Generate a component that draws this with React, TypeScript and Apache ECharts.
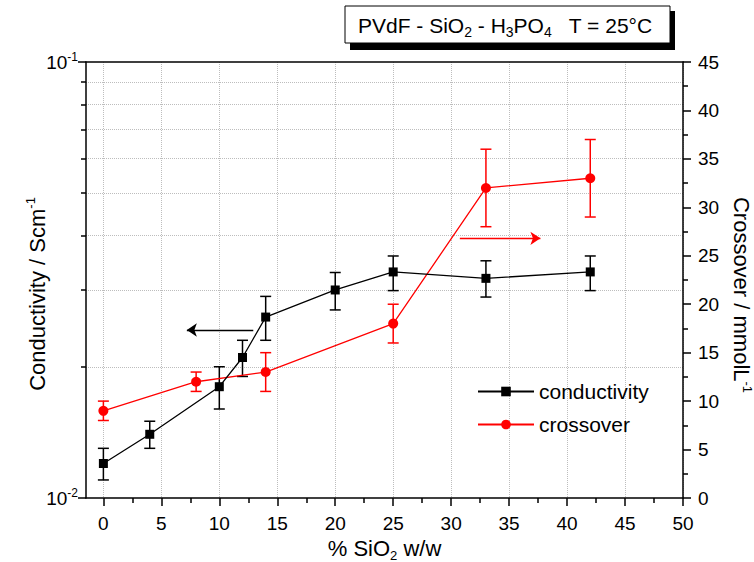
import React, { useEffect, useRef } from "react";
import * as echarts from "echarts";

// ---- data ----
const conductivityContent = [0, 4, 10, 12, 14, 20, 25, 33, 42];
const conductivity = [0.0120, 0.0140, 0.0180, 0.0210, 0.0260, 0.0300, 0.0330, 0.0319, 0.0330];
const conductivityLow = [0.0110, 0.0130, 0.0160, 0.0190, 0.0230, 0.0270, 0.0299, 0.0289, 0.0299];
const conductivityHigh = [0.0130, 0.0150, 0.0200, 0.0230, 0.0290, 0.0329, 0.0359, 0.0350, 0.0359];

const crossoverContent = [0, 8, 14, 25, 33, 42];
const crossover = [9, 12, 13, 18, 32, 33];
const crossoverLow = [8, 11, 11, 16, 28, 29];
const crossoverHigh = [10, 13, 15, 20, 36, 37];

const xMajorTicks = [0, 5, 10, 15, 20, 25, 30, 35, 40, 45, 50];
const xMinorTicks = [2.5, 7.5, 12.5, 17.5, 22.5, 27.5, 32.5, 37.5, 42.5, 47.5];
const logMinorTicks = [0.02, 0.03, 0.04, 0.05, 0.06, 0.07, 0.08, 0.09];

const FONT = "'Liberation Sans', Arial, sans-serif";

function errorBars(name: string, yAxisIndex: number, xs: number[], lo: number[], hi: number[], color: string) {
  return {
    type: "custom",
    name,
    xAxisIndex: 0,
    yAxisIndex,
    silent: true,
    z: 3,
    encode: { x: 0, y: [1, 2] },
    data: xs.map((x, i) => [x, lo[i], hi[i]]),
    renderItem: (params: any, api: any) => {
      const x = api.value(0);
      const pLo = api.coord([x, api.value(1)]);
      const pHi = api.coord([x, api.value(2)]);
      const hw = 5.5;
      const style = { stroke: color, lineWidth: 1.5 };
      return {
        type: "group",
        children: [
          { type: "line", shape: { x1: pLo[0], y1: pLo[1], x2: pHi[0], y2: pHi[1] }, style },
          { type: "line", shape: { x1: pLo[0] - hw, y1: pLo[1], x2: pLo[0] + hw, y2: pLo[1] }, style },
          { type: "line", shape: { x1: pHi[0] - hw, y1: pHi[1], x2: pHi[0] + hw, y2: pHi[1] }, style },
        ],
      };
    },
  };
}

export default function App() {
  const ref = useRef<HTMLDivElement>(null);
  useEffect(() => {
    if (!ref.current) return;
    const chart = echarts.init(ref.current, null, { renderer: "svg" });
    const gridLine = { show: true, lineStyle: { color: "#bdbdbd", type: "dotted", width: 1 } };
    const axisLine = { show: true, onZero: false, lineStyle: { color: "#000", width: 1.5 } };
    const tickStyle = { color: "#000", width: 1.5 };
    const supRich = {
      b: { fontSize: 22, fontFamily: FONT, color: "#000", lineHeight: 26 },
      sup: { fontSize: 13, fontFamily: FONT, color: "#000", lineHeight: 13, verticalAlign: "top" },
      sub: { fontSize: 13, fontFamily: FONT, color: "#000", lineHeight: 13, verticalAlign: "bottom" },
    };
    chart.setOption({
      animation: false,
      grid: { left: 86, right: 71, top: 62, bottom: 64, containLabel: false, outerBoundsMode: "none" },
      legend: {
        data: ["conductivity", "crossover"],
        orient: "vertical",
        left: 472,
        top: 376,
        itemWidth: 56,
        itemHeight: 12,
        itemGap: 12,
        textStyle: { fontSize: 21, fontFamily: FONT, color: "#000" },
      },
      xAxis: [
        {
          type: "value",
          min: -1.5,
          max: 50,
          position: "bottom",
          axisLine,
          axisTick: { show: true, customValues: xMajorTicks, length: 8, lineStyle: tickStyle },
          axisLabel: { customValues: xMajorTicks, margin: 16, fontSize: 19, fontFamily: FONT, color: "#000" },
          splitLine: gridLine,
          name: "{b|% SiO}{sub|2}{b| w/w}",
          nameLocation: "middle",
          nameGap: 37,
          nameTextStyle: { rich: supRich },
        },
        {
          type: "value",
          min: -1.5,
          max: 50,
          position: "bottom",
          axisLine: { show: false, onZero: false },
          axisTick: { show: true, customValues: xMinorTicks, length: 5, lineStyle: tickStyle },
          axisLabel: { show: false },
          splitLine: { show: false },
        },
        {
          type: "value",
          min: -1.5,
          max: 50,
          position: "top",
          axisLine,
          axisTick: { show: false },
          axisLabel: { show: false },
          splitLine: { show: false },
        },
      ],
      yAxis: [
        {
          type: "log",
          logBase: 10,
          min: 0.01,
          max: 0.1,
          position: "left",
          axisLine,
          axisTick: { show: true, length: 8, lineStyle: tickStyle },
          axisLabel: {
            margin: 8,
            formatter: (v: number) => (v > 0.05 ? "{n|10}{e|-1}" : "{n|10}{e|-2}"),
            rich: {
              n: { fontSize: 19, fontFamily: FONT, color: "#000", lineHeight: 22 },
              e: { fontSize: 12, fontFamily: FONT, color: "#000", lineHeight: 12, verticalAlign: "top" },
            },
          },
          splitLine: { show: false },
          name: "{b|Conductivity / Scm}{sup|-1}",
          nameLocation: "middle",
          nameGap: 36,
          nameMoveOverlap: false,
          nameTextStyle: { rich: supRich, padding: [0, 28, 0, 0] },
        },
        {
          type: "value",
          min: 0,
          max: 45,
          interval: 5,
          position: "right",
          axisLine,
          axisTick: { show: true, length: 8, lineStyle: tickStyle },
          minorTick: { show: true, splitNumber: 2, length: 5, lineStyle: tickStyle },
          axisLabel: { margin: 15, fontSize: 19, fontFamily: FONT, color: "#000" },
          splitLine: { show: false },
          name: "{b|Crossover / mmolL}{sup|-1}",
          nameLocation: "middle",
          nameRotate: -90,
          nameGap: 43,
          nameTextStyle: { rich: supRich, padding: [0, 0, 0, 30] },
        },
        {
          type: "log",
          logBase: 10,
          min: 0.01,
          max: 0.1,
          position: "left",
          axisLine: { show: false, onZero: false },
          axisTick: { show: true, customValues: logMinorTicks, length: 5, lineStyle: tickStyle },
          axisLabel: { show: false },
          splitLine: gridLine,
        },
      ],
      graphic: [
        { type: "rect", shape: { x: 350, y: 11, width: 325, height: 39 }, style: { fill: "#000" }, z: 10 },
        { type: "rect", shape: { x: 345, y: 6, width: 325, height: 37 }, style: { fill: "#fff", stroke: "#000", lineWidth: 1 }, z: 11 },
        {
          type: "text",
          x: 358,
          y: 25,
          z: 12,
          style: {
            text: "{m|PVdF - SiO}{s|2}{m| - H}{s|3}{m|PO}{s|4}{m|   T = 25°C}",
            verticalAlign: "middle",
            rich: {
              m: { fontSize: 21, fontFamily: FONT, fill: "#000", lineHeight: 28 },
              s: { fontSize: 14, fontFamily: FONT, fill: "#000", lineHeight: 14, verticalAlign: "bottom" },
            },
          },
        },
      ],
      series: [
        errorBars("conductivity error", 0, conductivityContent, conductivityLow, conductivityHigh, "#000"),
        errorBars("crossover error", 1, crossoverContent, crossoverLow, crossoverHigh, "#ff0000"),
        {
          type: "line",
          name: "crossover",
          xAxisIndex: 0,
          yAxisIndex: 1,
          data: crossoverContent.map((x, i) => [x, crossover[i]]),
          symbol: "circle",
          symbolSize: 10,
          itemStyle: { color: "#ff0000" },
          lineStyle: { color: "#ff0000", width: 1.3 },
          z: 4,
          markLine: {
            silent: true,
            symbol: ["none", "arrow"],
            symbolSize: 10,
            label: { show: false },
            lineStyle: { color: "#ff0000", width: 1.3, type: "solid" },
            data: [[{ coord: [30.75, 26.8] }, { coord: [37.7, 26.8] }]],
          },
        },
        {
          type: "line",
          name: "conductivity",
          xAxisIndex: 0,
          yAxisIndex: 0,
          data: conductivityContent.map((x, i) => [x, conductivity[i]]),
          symbol: "rect",
          symbolSize: 9,
          itemStyle: { color: "#000" },
          lineStyle: { color: "#000", width: 1.3 },
          z: 5,
          markLine: {
            silent: true,
            symbol: ["none", "arrow"],
            symbolSize: 10,
            label: { show: false },
            lineStyle: { color: "#000", width: 1.3, type: "solid" },
            data: [[{ coord: [12.93, 0.02428] }, { coord: [7.2, 0.02428] }]],
          },
        },
      ],
    });
    return () => chart.dispose();
  }, []);
  return <div ref={ref} style={{ position: "absolute", left: 0, top: 0, width: 754, height: 562 }} />;
}
